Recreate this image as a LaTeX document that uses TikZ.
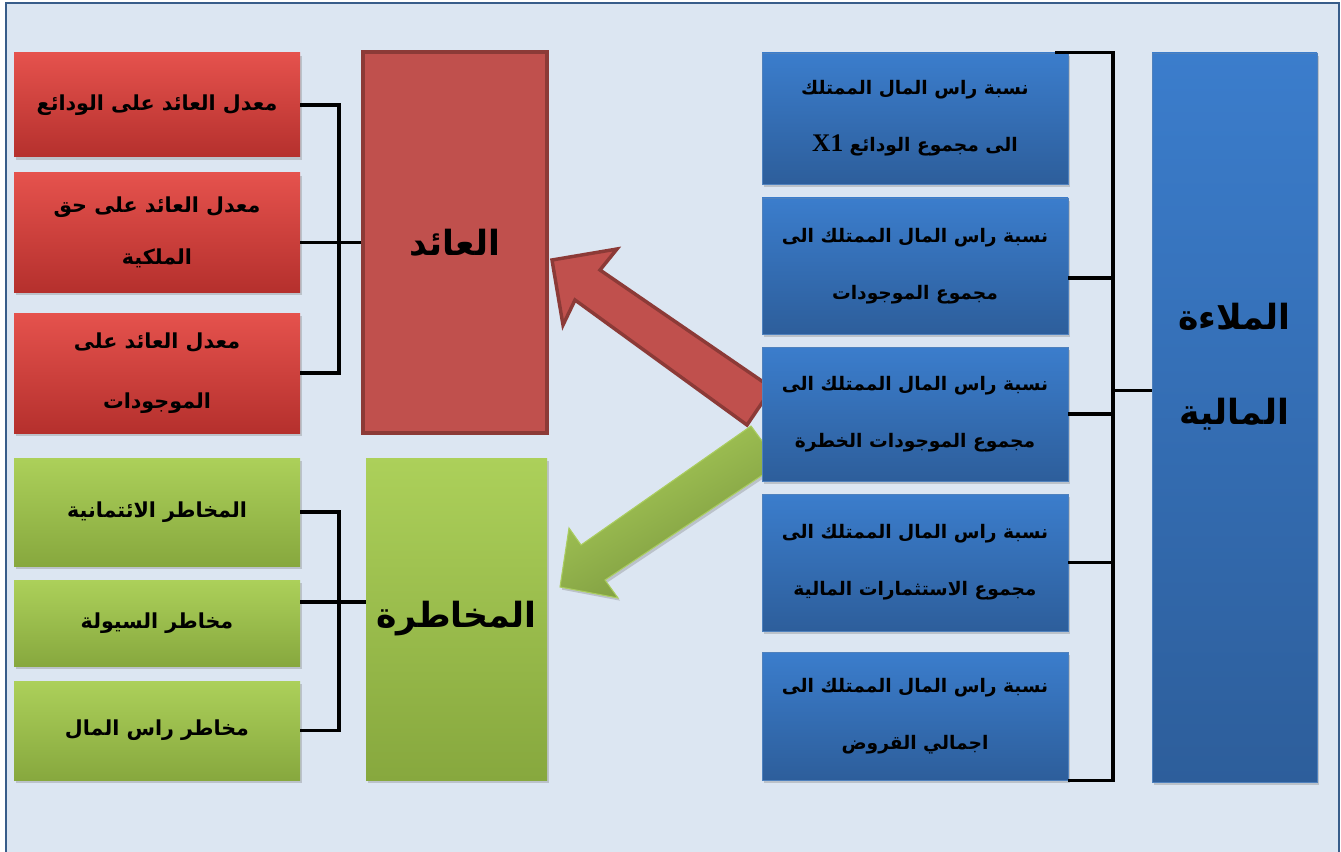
\documentclass[tikz,border=0pt]{standalone}
\usepackage{fontspec}
\usetikzlibrary{shadows,calc}
\TeXXeTstate=1
\newfontfamily\arabicfont[Script=Arabic]{DejaVu Sans}
\newfontfamily\latinserif{Liberation Serif}
\newcommand\ar[1]{\beginR #1\endR}
\definecolor{bgc}{HTML}{DCE6F2}
\definecolor{framec}{HTML}{385D8A}
\definecolor{redT}{HTML}{E5524D}
\definecolor{redB}{HTML}{B5302D}
\definecolor{redA}{HTML}{C0504D}
\definecolor{redAd}{HTML}{8C3A37}
\definecolor{grnT}{HTML}{ACD05A}
\definecolor{grnB}{HTML}{87A83E}
\definecolor{grnD}{HTML}{76923C}
\definecolor{bluT}{HTML}{3B7DCC}
\definecolor{bluB}{HTML}{2D5E9B}
\definecolor{bluE}{HTML}{4F81BD}
\tikzset{
  box/.style={rectangle, inner sep=0pt, align=center, text=black},
  sh/.style={drop shadow={shadow xshift=1.5pt, shadow yshift=-2pt, opacity=0.35}},
  arf/.style={font=\arabicfont\bfseries\fontsize{14}{43}\selectfont},
  arfl/.style={font=\arabicfont\bfseries\fontsize{15.5}{42}\selectfont},
  bigf/.style={font=\arabicfont\bfseries\fontsize{26}{71}\selectfont},
  redbox/.style={box, arfl, sh, top color=redT, bottom color=redB},
  grnbox/.style={box, arfl, sh, top color=grnT, bottom color=grnB},
  blubox/.style={box, arf, sh, top color=bluT, bottom color=bluB, draw=bluE, line width=0.6pt},
  br/.style={draw=black, line width=2.6pt},
}
\begin{document}
\begin{tikzpicture}[x=0.75pt, y=-0.75pt]
\useasboundingbox (0,0) rectangle (1341,852);
\fill[white] (0,0) rectangle (1341,852);
\fill[bgc] (6,3) rectangle (1339,852);
\draw[framec, line width=1.5pt] (6,852) -- (6,3) -- (1339,3) -- (1339,852);

% arrows
\draw[fill=redA, draw=redAd, line width=2.6pt, line join=miter]
  (552,260) -- (617,249) -- (600,270) -- (772,388) -- (747,425) -- (575,300) -- (563,325) -- cycle;
\path[sh, top color=grnT, bottom color=grnD, shading angle=30, draw={rgb,255:red,170;green,205;blue,95}, line width=0.8pt]
  (560,587) -- (569,528) -- (581,545) -- (751,426) -- (779,464) -- (605,580) -- (618,598) -- cycle;

% red side
\node[redbox, minimum width=286*0.75pt, minimum height=104*0.75pt] (r1) at (157,105) {\ar{معدل العائد على الودائع}};
\node[redbox, minimum width=286*0.75pt, minimum height=119*0.75pt] (r2) at (157,232.5) {\ar{معدل العائد على حق}\\[-3pt]\ar{الملكية}};
\node[redbox, minimum width=286*0.75pt, minimum height=120*0.75pt] (r3) at (157,373) {\ar{معدل العائد على}\\[3pt]\ar{الموجودات}};
\node[box, bigf, fill=redA, draw=redAd, line width=2.4pt, minimum width=184*0.75pt, minimum height=381*0.75pt] (A) at (455,242.5) {\ar{العائد}};

% green side
\node[grnbox, minimum width=286*0.75pt, minimum height=108*0.75pt] (g1) at (157,512) {\ar{المخاطر الائتمانية}};
\node[grnbox, minimum width=286*0.75pt, minimum height=86*0.75pt] (g2) at (157,623) {\ar{مخاطر السيولة}};
\node[grnbox, minimum width=286*0.75pt, minimum height=99*0.75pt] (g3) at (157,730.5) {\ar{مخاطر راس المال}};
\node[grnbox, bigf, minimum width=181*0.75pt, minimum height=322*0.75pt] (M) at (456.5,619) {\ar{المخاطرة}};

% blue side
\node[blubox, minimum width=306*0.75pt, minimum height=131*0.75pt] (b1) at (915,118.5) {\ar{نسبة راس المال الممتلك}\\\ar{الى مجموع الودائع \beginL{\latinserif\bfseries\fontsize{19}{43}\selectfont X1}\endL}};
\node[blubox, minimum width=306*0.75pt, minimum height=136*0.75pt] (b2) at (915,266) {\ar{نسبة راس المال الممتلك الى}\\\ar{مجموع الموجودات}};
\node[blubox, minimum width=306*0.75pt, minimum height=134*0.75pt] (b3) at (915,414) {\ar{نسبة راس المال الممتلك الى}\\\ar{مجموع الموجودات الخطرة}};
\node[blubox, minimum width=306*0.75pt, minimum height=137*0.75pt] (b4) at (915,562.5) {\ar{نسبة راس المال الممتلك الى}\\\ar{مجموع الاستثمارات المالية}};
\node[blubox, minimum width=306*0.75pt, minimum height=128*0.75pt] (b5) at (915,716) {\ar{نسبة راس المال الممتلك الى}\\\ar{اجمالي القروض}};
\node[blubox, minimum width=165*0.75pt, minimum height=729*0.75pt] (F) at (1234.5,417.5) {};
\node[box, bigf] (Ft) at (1234.5,367) {\ar{الملاءة}\\\ar{المالية}};

% brackets
\coordinate (rx) at (339,0);
\draw[br] (r1.east) -- (r1.east -| rx) -- (r3.east -| rx) -- (r3.east);
\draw[br] (A.west) -- (A.west -| r2.east);
\coordinate (gc) at ($(M.west)+(0,-17)$);
\draw[br] (g1.east) -- (g1.east -| rx) -- (g3.east -| rx) -- (g3.east);
\draw[br] (gc) -- (gc -| g2.east);
\coordinate (bx) at (1113,0);
\coordinate (bt) at ($(b1.north east)+(-13,0)$);
\draw[br] (bt) -- (bt -| bx) -- (b5.south east -| bx) -- (b5.south east);
\coordinate (b2c) at ($(b2.east)+(0,12)$);
\draw[br] (b2c) -- (b2c -| bx);
\draw[br] (b3.east) -- (b3.east -| bx);
\draw[br] (b4.east) -- (b4.east -| bx);
\coordinate (fc) at ($(F.west)+(0,-27)$);
\draw[br] (fc) -- (fc -| bx);
\end{tikzpicture}
\end{document}
